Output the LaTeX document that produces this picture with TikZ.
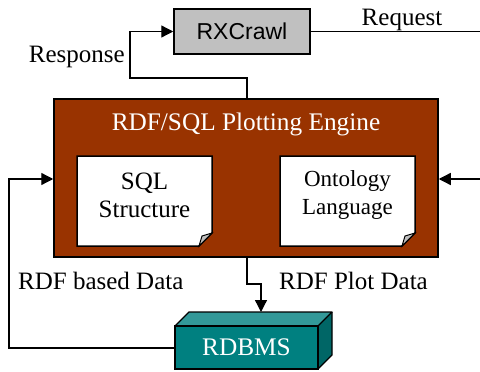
\documentclass[tikz,border=0pt]{standalone}
\usepackage{fontspec}
\setmainfont{Liberation Serif}
\newfontfamily\boxsans{Liberation Sans}
\usetikzlibrary{arrows.meta}
\definecolor{engine}{HTML}{993300}
\definecolor{tealfront}{HTML}{008080}
\definecolor{tealtop}{HTML}{339999}
\definecolor{tealside}{HTML}{006666}
\definecolor{crawlgray}{HTML}{C0C0C0}
\tikzset{
  conn/.style={line width=1.3pt, -{Triangle[length=12pt,width=12pt]}},
  plain/.style={line width=1.1pt},
  lbl/.style={font=\fontsize{25}{29}\selectfont, inner sep=0pt},
  doc/.style={fill=white, draw=black, line width=1.5pt},
}
\begin{document}
\begin{tikzpicture}[x=1pt,y=-1pt]
\useasboundingbox (0,0) rectangle (480,372);
% RXCrawl
\node[draw=black, line width=1.5pt, fill=crawlgray, minimum width=136pt, minimum height=45pt, inner sep=0pt,
      font=\boxsans\fontsize{23}{26}\selectfont] (rx) at (242,31.5) {RXCrawl};
% Engine
\node[draw=black, line width=1.5pt, fill=engine, minimum width=384pt, minimum height=158pt, inner sep=0pt] (eng) at (246,178) {};
\node[lbl, text=white, font=\fontsize{25.3}{29}\selectfont] (engt) at (246,124) {RDF/SQL Plotting Engine};
% documents
\draw[doc] (77,156) -- (212,156) -- (212,233) -- (199,246) -- (77,246) -- cycle;
\draw[fill=lightgray, draw=black, line width=1pt] (212,233) -- (199,246) -- (202,236) -- cycle;
\node[lbl, align=center, font=\fontsize{25}{28}\selectfont] (sql) at (144.5,195) {SQL\\Structure};
\draw[doc] (280,156) -- (415,156) -- (415,233) -- (402,246) -- (280,246) -- cycle;
\draw[fill=lightgray, draw=black, line width=1pt] (415,233) -- (402,246) -- (405,236) -- cycle;
\node[lbl, align=center, font=\fontsize{23}{28}\selectfont] (ont) at (347.5,195) {Ontology\\Language};
% RDBMS 3D box
\fill[tealtop] (175,326) -- (189,312) -- (332,312) -- (318,326) -- cycle;
\fill[tealside] (318,326) -- (332,312) -- (332,355) -- (318,369) -- cycle;
\node[draw=black, line width=1.3pt, fill=tealfront, minimum width=143pt, minimum height=43pt, inner sep=0pt,
      text=white, font=\fontsize{25.3}{29}\selectfont] (db) at (246.5,347.5) {RDBMS};
\draw[line width=1.3pt, line join=round] (175,326) -- (189,312) -- (332,312) -- (318,326);
\draw[line width=1.3pt, line join=round] (332,312) -- (332,355) -- (318,369);
% connectors
\coordinate (reqend) at (480,31.5);
\draw[plain] (rx.east) -- (reqend);
\node[lbl, anchor=base] (req) at (402,26) {Request};
\draw[conn] (eng.north -| 247,0) |- (130,78) |- (rx.west);
\node[lbl, anchor=east] (resp) at (125,57) {Response};
\coordinate (rin) at (480,179);
\draw[conn] (rin) -- (eng.east |- rin);
\coordinate (lbend) at (9,179);
\draw[conn] (db.west |- 0,348) -| (lbend) -- (eng.west |- lbend);
\draw[conn] (247,257) -- (247,284) -- (261,284) -- (261,312);
\node[lbl, anchor=west] (rbd) at (18,281) {RDF based Data};
\node[lbl, anchor=west] (rpd) at (279,281) {RDF Plot Data};
\end{tikzpicture}
\end{document}
